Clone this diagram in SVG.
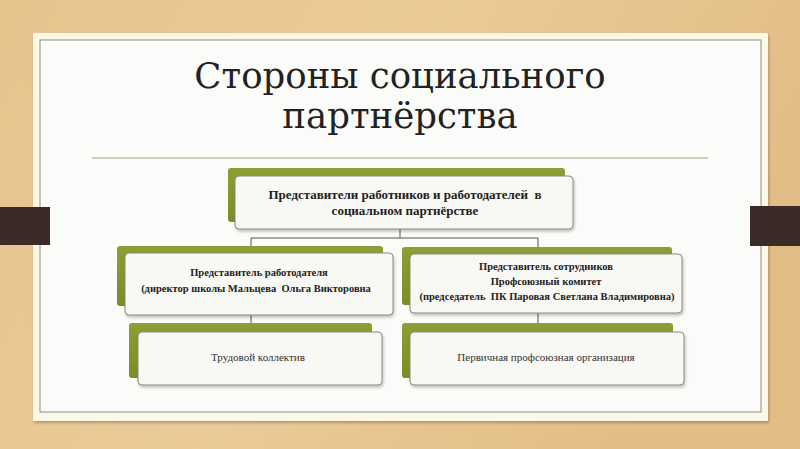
<svg xmlns="http://www.w3.org/2000/svg" width="800" height="449" viewBox="0 0 800 449">
<defs>
<linearGradient id="wood" x1="0" y1="0" x2="1" y2="0.3">
<stop offset="0" stop-color="#e7c48e"/>
<stop offset="0.5" stop-color="#ebcb98"/>
<stop offset="1" stop-color="#e3bd86"/>
</linearGradient>
<linearGradient id="green" x1="0" y1="0" x2="0" y2="1">
<stop offset="0" stop-color="#8f9e34"/>
<stop offset="1" stop-color="#7c8c26"/>
</linearGradient>
<filter id="sh" x="-10%" y="-10%" width="130%" height="140%">
<feDropShadow dx="1" dy="2" stdDeviation="1.5" flood-color="#000" flood-opacity="0.25"/>
</filter>
<style>
.back{fill:url(#green);}
.front{fill:#f8f8f4;stroke:#8a8a80;stroke-width:1;filter:url(#sh);}
.conn{fill:none;stroke:#555;stroke-width:1;}
.t1{font-family:"Liberation Serif","Times New Roman",serif;font-weight:bold;font-size:10.5px;fill:#222;text-anchor:middle;}
.tt{font-size:13px;}
.t2{font-family:"Liberation Serif","Times New Roman",serif;font-size:11px;fill:#333;text-anchor:middle;}
.title{font-family:"DejaVu Serif","Liberation Serif",serif;font-size:35.5px;fill:#222;text-anchor:middle;}
</style>
</defs>
<rect x="0" y="0" width="800" height="449" fill="url(#wood)"/>
<rect x="33" y="33" width="735" height="388" fill="#fbf8e8" filter="url(#sh)"/>
<rect x="40" y="40" width="721" height="372" fill="#fbfbf9" stroke="#8c8c88" stroke-width="1"/>
<rect x="0" y="207" width="50" height="38" fill="#3b2b26"/>
<rect x="750" y="206" width="50" height="40" fill="#3b2b26"/>
<text class="title" x="400" y="88">Стороны социального</text>
<text class="title" x="400" y="128">партнёрства</text>
<line x1="92" y1="158" x2="708" y2="158" stroke="#a3a386" stroke-width="1"/>
<g id="connectors">
<path class="conn" d="M400,229 V238 M251,246 V238 H538 V254"/>
<path class="conn" d="M251,315 V332"/>
<path class="conn" d="M538,313 V332"/>
</g>
<g id="n-top">
<rect class="back" x="228" y="168" width="337" height="54" rx="3"/>
<rect class="front" x="235" y="176" width="338" height="53" rx="4"/>
<text class="t1 tt" x="405" y="199" xml:space="preserve">Представители работников и работодателей  в</text>
<text class="t1 tt" x="405" y="215">социальном партнёрстве</text>
</g>
<g id="n-employer">
<rect class="back" x="117" y="246" width="266" height="60" rx="3"/>
<rect class="front" x="125" y="253" width="268" height="62" rx="4"/>
<text class="t1" x="259" y="276">Представитель работодателя</text>
<text class="t1" x="256" y="292" xml:space="preserve">(директор школы Мальцева  Ольга Викторовна</text>
</g>
<g id="n-employees">
<rect class="back" x="402" y="247" width="270" height="58" rx="3"/>
<rect class="front" x="410" y="254" width="272" height="59" rx="4"/>
<text class="t1" x="546" y="270">Представитель сотрудников</text>
<text class="t1" x="546" y="285">Профсоюзный комитет</text>
<text class="t1" x="547" y="300" xml:space="preserve">(председатель  ПК Паровая Светлана Владимировна)</text>
</g>
<g id="n-collective">
<rect class="back" x="129" y="323" width="243" height="55" rx="3"/>
<rect class="front" x="138" y="332" width="244" height="53" rx="4"/>
<text class="t2" x="258" y="361">Трудовой коллектив</text>
</g>
<g id="n-union">
<rect class="back" x="402" y="323" width="271" height="55" rx="3"/>
<rect class="front" x="410" y="332" width="274" height="53" rx="4"/>
<text class="t2" x="546" y="361">Первичная профсоюзная организация</text>
</g>
</svg>
